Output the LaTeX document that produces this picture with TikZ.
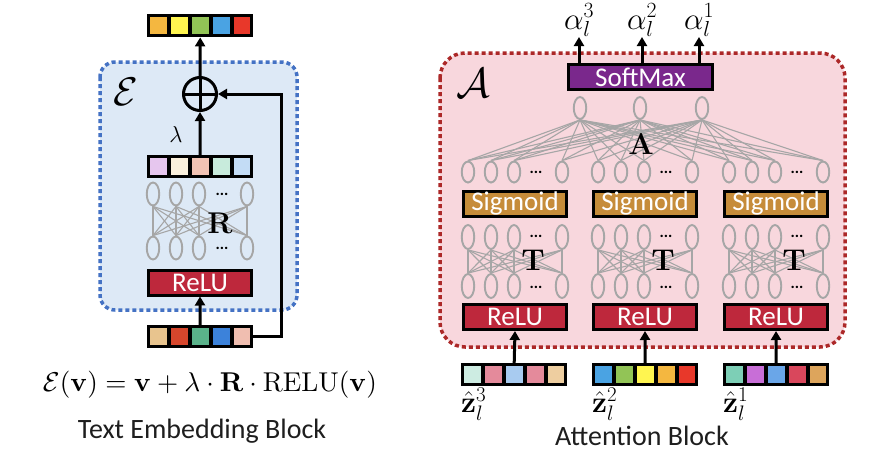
\RequirePackage{fix-cm}
\documentclass[tikz,border=0pt]{standalone}
\usepackage[no-math]{fontspec}
\usepackage{amsmath}
\usepackage{graphicx}
\newfontfamily\calib{Carlito}
\usetikzlibrary{shapes.geometric,arrows.meta,calc}
\definecolor{nngray}{RGB}{166,166,166}
\definecolor{eborder}{RGB}{68,114,196}
\definecolor{efill}{RGB}{221,233,246}
\definecolor{aborder}{RGB}{172,40,40}
\definecolor{afill}{RGB}{248,215,221}
\definecolor{relured}{RGB}{190,40,60}
\definecolor{sigbrown}{RGB}{198,140,58}
\definecolor{smpurple}{RGB}{122,40,140}
\definecolor{cOr}{RGB}{244,183,64}
\definecolor{cYe}{RGB}{255,245,80}
\definecolor{cGr}{RGB}{146,196,86}
\definecolor{cBl}{RGB}{74,163,227}
\definecolor{cRe}{RGB}{232,56,42}
\definecolor{lA}{RGB}{230,198,238}
\definecolor{lB}{RGB}{250,240,220}
\definecolor{lC}{RGB}{242,195,180}
\definecolor{lD}{RGB}{200,235,220}
\definecolor{lE}{RGB}{195,220,245}
\definecolor{iA}{RGB}{232,196,142}
\definecolor{iB}{RGB}{214,70,44}
\definecolor{iC}{RGB}{90,178,138}
\definecolor{iD}{RGB}{60,130,218}
\definecolor{iE}{RGB}{240,190,176}
\definecolor{tA}{RGB}{205,236,226}
\definecolor{tB}{RGB}{228,138,155}
\definecolor{tC}{RGB}{168,203,240}
\definecolor{tE}{RGB}{238,206,160}
\definecolor{oA}{RGB}{125,207,182}
\definecolor{oB}{RGB}{200,110,215}
\definecolor{oC}{RGB}{106,166,232}
\definecolor{oD}{RGB}{217,71,92}
\definecolor{oE}{RGB}{221,165,92}
\newcommand\embvec[8]{%
  \node[vecframe] (#1) at (#2,#3) {};
  \fill[#4] (#2+3,#3+3) rectangle ++(17,17);
  \fill[#5] (#2+24,#3+3) rectangle ++(17,17);
  \fill[#6] (#2+45,#3+3) rectangle ++(17,17);
  \fill[#7] (#2+66,#3+3) rectangle ++(17,17);
  \fill[#8] (#2+87,#3+3) rectangle ++(16,17);
}
\begin{document}
\begin{tikzpicture}[x=1pt,y=-1pt,
  blk/.style={draw=black, line width=3pt, text=white, font=\calib\fontsize{27}{27}\selectfont, inner sep=0pt, minimum width=103pt, minimum height=25pt},
  neur/.style={ellipse, draw=nngray, line width=1.9pt, minimum width=12.5pt, minimum height=22pt, inner sep=0pt},
  conn/.style={nngray, line width=1.1pt},
  arr/.style={line width=3pt, -{Triangle[length=9pt,width=10pt]}},
  vecframe/.style={fill=black, inner sep=0pt, minimum width=106pt, minimum height=23pt, anchor=north west},
  dotsn/.style={font=\calib\bfseries\fontsize{16}{16}\selectfont, inner sep=0pt, anchor=base},
  boldlab/.style={font=\bfseries\fontsize{30}{30}\selectfont, inner sep=0pt},
  caption/.style={font=\calib\fontsize{28}{30}\selectfont, text={rgb,255:red,30;green,30;blue,30}},
  zlab/.style={anchor=north west, inner sep=0pt, font=\fontsize{30}{30}\selectfont}
]
\useasboundingbox (0,0) rectangle (881,453);

% ===== Text embedding block =====
\draw[eborder, fill=efill, line width=3.5pt, dash pattern=on 4pt off 3pt, rounded corners=15pt] (100,62) rectangle (297,310);
\node[font=\fontsize{40}{40}\selectfont, inner sep=0pt] (ecal) at (126,92) {$\mathcal{E}$};

\embvec{vout}{147}{14}{cOr}{cYe}{cGr}{cBl}{cRe}
\node[circle, draw=black, line width=3pt, minimum size=33pt, inner sep=0pt] (plus) at (200,94) {};
\draw[line width=3pt] (plus.north) -- (plus.south) (plus.west) -- (plus.east);
\draw[arr] (plus.north) -- (vout.south);

\embvec{vlam}{147}{155}{lA}{lB}{lC}{lD}{lE}
\draw[arr] (vlam.north) -- (plus.south);
\node[font=\fontsize{23}{23}\selectfont, inner sep=0pt] (lam) at (176,135) {$\lambda$};

% R network
\foreach \k/\x in {1/153,2/176,3/199,4/247} {
  \node[neur, minimum height=23pt] (rt\k) at (\x,194) {};
  \node[neur, minimum height=23pt] (rb\k) at (\x,248) {};
}
\foreach \i in {1,...,4} \foreach \j in {1,...,4} \draw[conn] (rt\i.south) -- (rb\j.north);
\node[dotsn] (rdt) at (222,195) {...};
\node[dotsn] (rdb) at (222,249) {...};
\node[boldlab] (rlab) at (220,223) {R};

\node[blk, fill=relured] (erelu) at (200,282.5) {ReLU};
\embvec{vin}{147}{325}{iA}{iB}{iC}{iD}{iE}
\draw[arr] (vin.north) -- (erelu.south);
\coordinate (fbtop) at (281,94);
\draw[arr] (vin.east) -| (fbtop) -- (plus.east);

\node (eq) at (210,385) {\resizebox{334pt}{!}{$\mathcal{E}(\mathbf{v})=\mathbf{v}+\lambda\cdot\mathbf{R}\cdot\mathrm{RELU}(\mathbf{v})$}};
\node[caption] (ecap) at (202,431) {Text Embedding Block};

% ===== Attention block =====
\draw[aborder, fill=afill, line width=3.5pt, dash pattern=on 4pt off 3pt, rounded corners=25pt] (440,53) rectangle (845,347);
\node[font=\fontsize{42}{42}\selectfont, inner sep=0pt] (acal) at (473,83) {$\mathcal{A}$};

\node[blk, fill=smpurple, minimum width=144pt] (sm) at (640.5,77) {SoftMax};
\foreach \n/\x in {3/579,2/642,1/699} {
  \node[anchor=south, inner sep=0pt, font=\fontsize{31}{31}\selectfont] (al\n) at (\x,37) {$\alpha_l^{\n}$};
  \draw[arr] (sm.north -| al\n) -- (al\n.south);
}

\foreach \t/\x in {1/580,2/640,3/702} \node[neur] (at\t) at (\x,108) {};

\foreach \g/\L in {1/462,2/592,3/723} {
  \foreach \k/\o in {1/6,2/29,3/52,4/100} {
    \node[neur, minimum height=21pt] (g\g-t\k) at (\L+\o,172) {};
    \node[neur, minimum height=24pt] (g\g-a\k) at (\L+\o,237) {};
    \node[neur, minimum height=24pt] (g\g-b\k) at (\L+\o,286) {};
  }
  \foreach \i in {1,...,4} \foreach \j in {1,...,4} \draw[conn] (g\g-a\i.south) -- (g\g-b\j.north);
  \node[dotsn] (g\g-dt) at (\L+74,173) {...};
  \node[dotsn] (g\g-da) at (\L+74,237) {...};
  \node[dotsn] (g\g-db) at (\L+74,288) {...};
  \node[boldlab] (g\g-T) at (\L+71,260) {T};
  \node[blk, fill=sigbrown] (g\g-sig) at (\L+53,203.5) {Sigmoid};
  \node[blk, fill=relured] (g\g-relu) at (\L+53,317) {ReLU};
}
\foreach \t in {1,2,3} \foreach \g in {1,2,3} \foreach \k in {1,...,4} \draw[conn] (at\t.south) -- (g\g-t\k.north);
\node[boldlab] (alab) at (641,144) {A};

\embvec{z3v}{461}{363}{tA}{tB}{tC}{tB}{tE}
\embvec{z2v}{592}{363}{cBl}{cGr}{cYe}{cOr}{cRe}
\embvec{z1v}{723}{363}{oA}{oB}{oC}{oD}{oE}
\draw[arr] (z3v.north) -- (g1-relu.south);
\draw[arr] (z2v.north) -- (g2-relu.south);
\draw[arr] (z1v.north) -- (g3-relu.south);

\node[zlab] (z3) at (461,388) {$\hat{\mathbf{z}}_l^3$};
\node[zlab] (z2) at (592,388) {$\hat{\mathbf{z}}_l^2$};
\node[zlab] (z1) at (723,388) {$\hat{\mathbf{z}}_l^1$};
\node[caption] (acap) at (642,436) {Attention Block};
\end{tikzpicture}
\end{document}
